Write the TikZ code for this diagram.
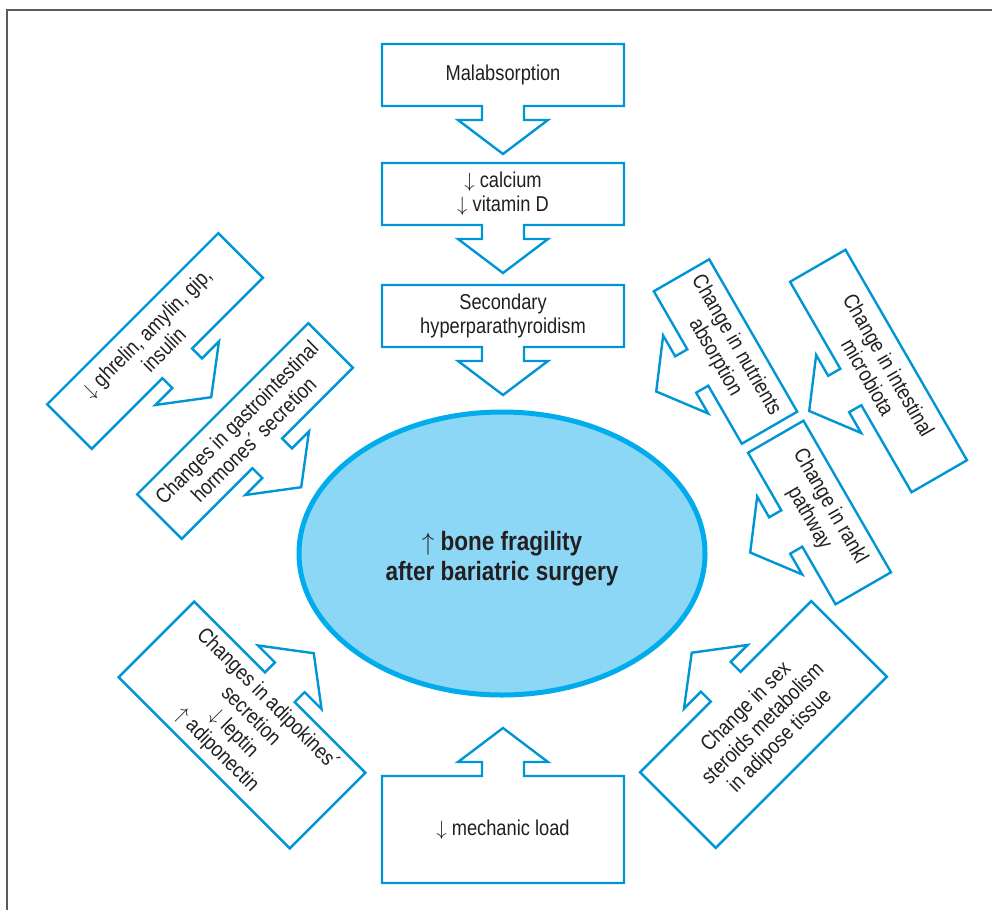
\documentclass[tikz,border=0pt]{standalone}
\usepackage{fontspec}
\setmainfont{Liberation Sans}[FakeStretch=0.85]
\usetikzlibrary{shapes.geometric}
\definecolor{boxblue}{RGB}{0,150,214}
\definecolor{ringblue}{RGB}{0,172,236}
\definecolor{fillblue}{RGB}{141,215,246}
\definecolor{framegray}{RGB}{90,90,90}
\definecolor{ink}{RGB}{35,31,32}
\newcommand{\dn}{$\downarrow$}
\newcommand{\upa}{$\uparrow$}
\begin{document}
\begin{tikzpicture}[x=1pt,y=1pt,line join=miter,
	boxline/.style={draw=boxblue,line width=2.4pt,fill=white},
	lbl/.style={font=\fontsize{21.5}{24}\selectfont,text=ink,align=center,inner sep=0pt},
	core/.style={ellipse,draw=ringblue,fill=fillblue,line width=5pt,minimum width=406pt,minimum height=283pt,inner sep=0pt,
		font=\bfseries\fontsize{26.5}{30}\selectfont,text=ink,align=center}]
	\useasboundingbox (0,0) rectangle (992,-910);
	\draw[framegray,line width=2pt] (7,-910) -- (7,-10) -- (992,-10);
	\node[core] (bone) at (502,-553.5) {\rule{0pt}{30pt}\upa\ bone fragility\\after bariatric surgery};
	% box centre / angle / width / height / arrow side (1 up, -1 down) / name / text
	\foreach \bx/\by/\ang/\bw/\bh/\side/\nm/\txt in {
		503/75/0/242/62/-1/malab/{Malabsorption},
		503/194/0/242/62/-1/calcium/{\dn\ calcium\\\dn\ vitamin D},
		503/316/0/242/62/-1/hyperpth/{Secondary\\hyperparathyroidism},
		503/829.5/0/242/107/1/mechload/{\dn\ mechanic load},
		155/341/45/242/63/-1/ghrelin/{\dn\ ghrelin, amylin, gip,\\insulin},
		245/431/45/242/63/-1/gihorm/{Changes in gastrointestinal\\hormones´ secretion},
		725.5/351.5/-60/176/64/-1/nutrients/{Change in nutrients\\absorption},
		878.5/371/-60/243/64/-1/microbiota/{Change in intestinal\\microbiota},
		819.5/512.5/-60/175/64/-1/rankl/{Change in rankl\\pathway},
		242/725/-45/242/107/1/adipok/{Changes in adipokines´\\secretion\\\dn\ leptin\\\upa\ adiponectin},
		763.5/724.5/45/242/107/1/sexster/{Change in sex\\steroids metabolism\\in adipose tissue}}
	{
		\begin{scope}[shift={(\bx,-\by)},rotate=\ang]
			\draw[boxline,yscale=\side] (-\bw/2,-\bh/2) -- (\bw/2,-\bh/2) -- (\bw/2,\bh/2)
				-- (21,\bh/2) -- (21,\bh/2+14) -- (45,\bh/2+14) -- (0,\bh/2+48)
				-- (-45,\bh/2+14) -- (-21,\bh/2+14) -- (-21,\bh/2) -- (-\bw/2,\bh/2) -- cycle;
		\end{scope}
		\node[lbl,rotate=\ang] (\nm) at (\bx,-\by) {\txt};
	}
\end{tikzpicture}
\end{document}
